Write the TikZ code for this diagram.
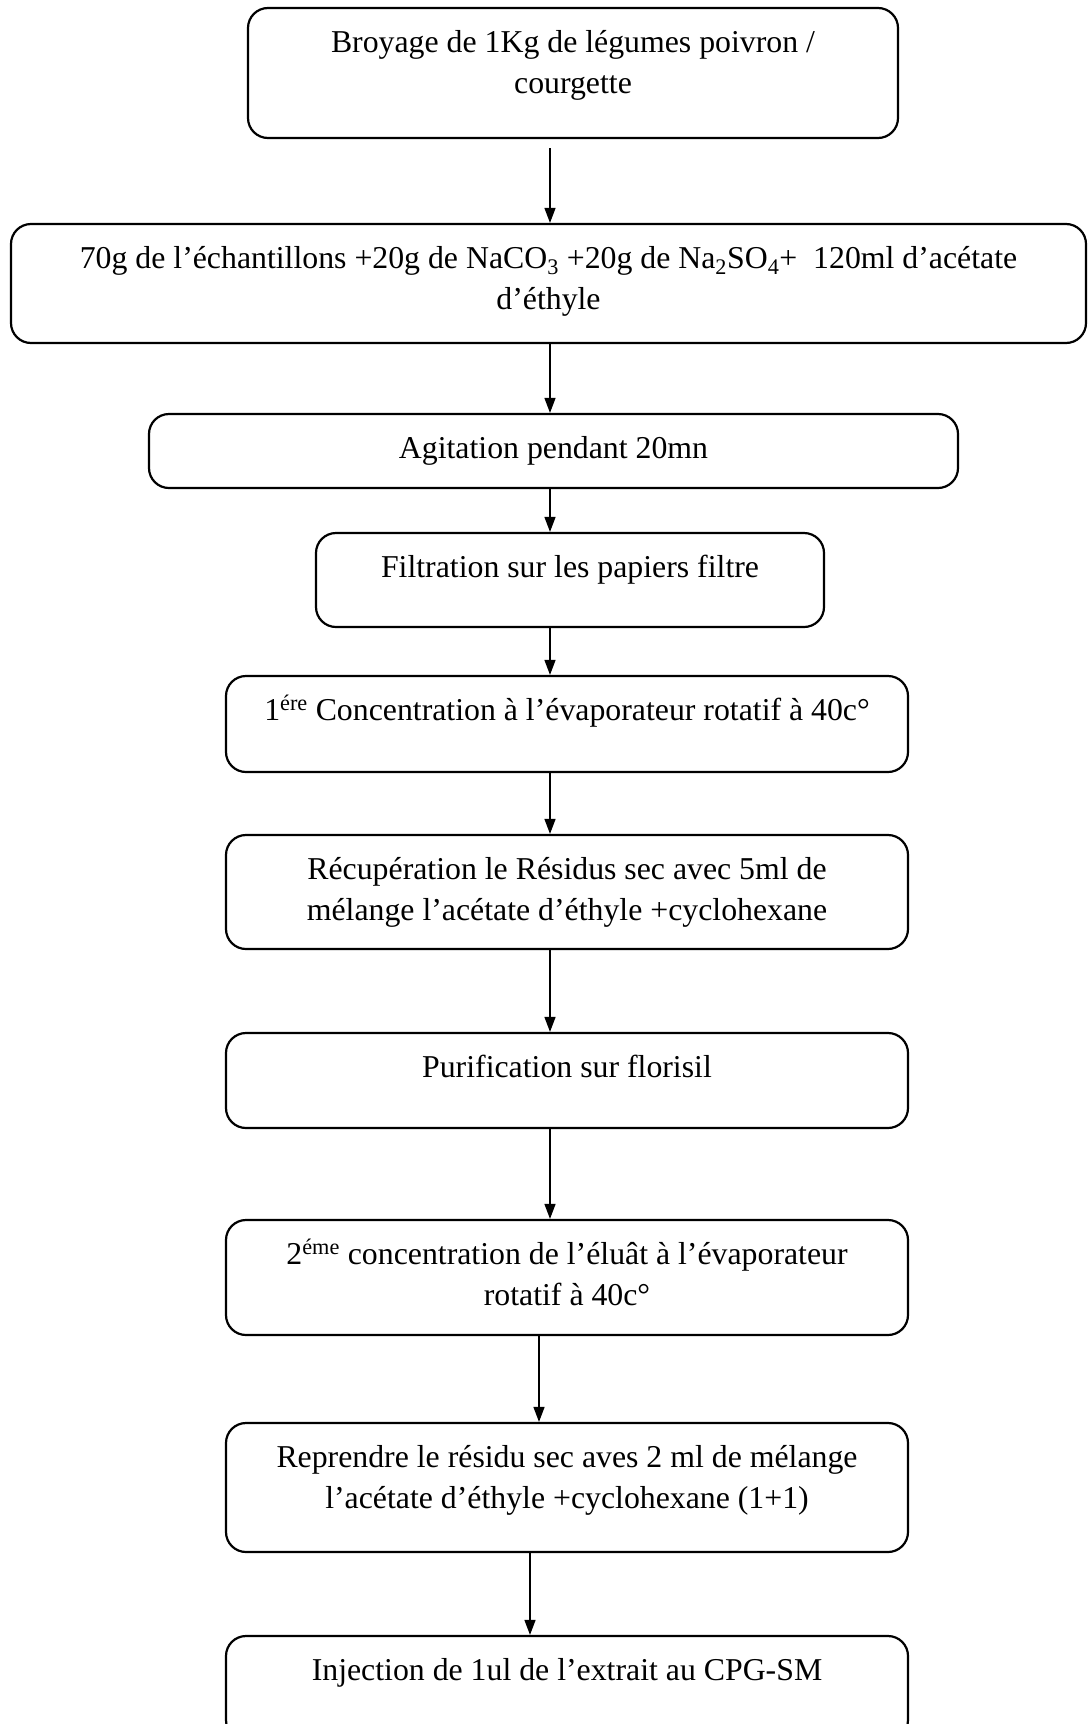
\documentclass[tikz,border=0pt]{standalone}
\usepackage{fontspec}
\setmainfont{Liberation Serif}
\usetikzlibrary{arrows.meta}
\tikzset{
  stepbox/.style={draw, line width=2.2pt, rounded corners=20pt, inner sep=0pt, fill=none},
  steptext/.style={inner sep=0pt, align=center, anchor=base, font=\fontsize{31.8pt}{41.5pt}\selectfont},
  flow/.style={line width=1.4pt, -{Triangle[length=15pt,width=11pt]}}
}
% \mkbox{name}{x1}{y1}{x2}{y2}{number of lines}{text}
\newcommand{\mkbox}[7]{%
  \node[stepbox, minimum width={(#4)-(#2)}, minimum height={(#5)-(#3)}] (#1) at ({((#2)+(#4))/2},{((#3)+(#5))/2}) {};
  \node[steptext] (#1t) at ({((#2)+(#4))/2},{(#3)+44+((#6)-1)*41.5}) {#7};
}
\begin{document}
\begin{tikzpicture}[x=1pt,y=-1pt]
\fill[white] (0,0) rectangle (1088,1724);
\useasboundingbox (0,0) rectangle (1088,1724);
\mkbox{b1}{248}{8}{898}{138}{2}{Broyage de 1Kg de légumes poivron /\\ courgette}
\mkbox{b2}{11}{224}{1086}{343}{2}{70g de l’échantillons +20g de NaCO\textsubscript{3} +20g de Na\textsubscript{2}SO\textsubscript{4}+~ 120ml d’acétate\\ d’éthyle}
\mkbox{b3}{149}{414}{958}{488}{1}{Agitation pendant 20mn}
\mkbox{b4}{316}{533}{824}{627}{1}{Filtration sur les papiers filtre}
\mkbox{b5}{226}{676}{908}{772}{1}{1\textsuperscript{ére} Concentration à l’évaporateur rotatif à 40c°}
\mkbox{b6}{226}{835}{908}{949}{2}{Récupération le Résidus sec avec 5ml de\\ mélange l’acétate d’éthyle +cyclohexane}
\mkbox{b7}{226}{1033}{908}{1128}{1}{Purification sur florisil}
\mkbox{b8}{226}{1220}{908}{1335}{2}{2\textsuperscript{éme} concentration de l’éluât à l’évaporateur\\ rotatif à 40c°}
\mkbox{b9}{226}{1423}{908}{1552}{2}{Reprendre le résidu sec aves 2 ml de mélange\\ l’acétate d’éthyle +cyclohexane (1+1)}
\mkbox{b10}{226}{1636}{908}{1740}{1}{Injection de 1ul de l’extrait au CPG-SM}
\coordinate (ax) at (550,0);
\coordinate (ax8) at (539,0);
\coordinate (ax9) at (530,0);
\draw[flow, shorten <=9pt] (b1.south -| ax) -- (b2.north -| ax);
\draw[flow] (b2.south -| ax) -- (b3.north -| ax);
\draw[flow] (b3.south -| ax) -- (b4.north -| ax);
\draw[flow] (b4.south -| ax) -- (b5.north -| ax);
\draw[flow] (b5.south -| ax) -- (b6.north -| ax);
\draw[flow] (b6.south -| ax) -- (b7.north -| ax);
\draw[flow] (b7.south -| ax) -- (b8.north -| ax);
\draw[flow] (b8.south -| ax8) -- (b9.north -| ax8);
\draw[flow] (b9.south -| ax9) -- (b10.north -| ax9);
\end{tikzpicture}
\end{document}
